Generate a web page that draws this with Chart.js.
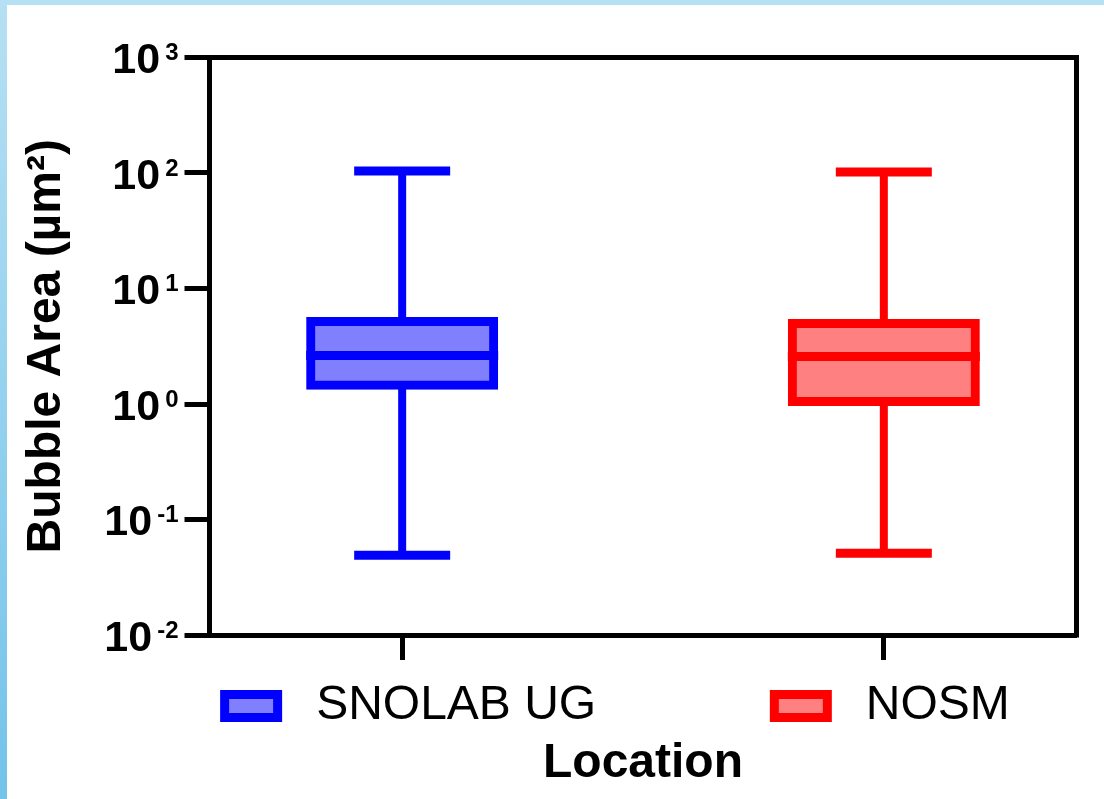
<!DOCTYPE html>
<html>
<head>
<meta charset="utf-8">
<script src="https://cdn.jsdelivr.net/npm/chart.js@4.4.1/dist/chart.umd.min.js"></script>
<style>
  html, body { margin: 0; padding: 0; }
  body { width: 1104px; height: 799px; overflow: hidden; position: relative;
         background: linear-gradient(to bottom, #b6e0f3, #73c3ea); }
  #wrap { position: absolute; left: 7px; top: 5px; width: 1097px; height: 794px; background: #fff; }
</style>
</head>
<body>
<div id="wrap"><canvas id="box"></canvas></div>
<script>
// box plot summary per location (µm²)
const locations = ['SNOLAB UG', 'NOSM'];
const minVals = [0.049, 0.051];
const q1Vals = [1.45, 1.05];
const medianVals = [2.63, 2.58];
const q3Vals = [5.18, 4.98];
const maxVals = [104, 102];

const lineColors = ['#0000ff', '#ff0000'];
const fillColors = ['#8080ff', '#ff8080'];

const yTickValues = [0.01, 0.1, 1, 10, 100, 1000];
const yTickExponents = ['-2', '-1', '0', '1', '2', '3'];

const FONT = "'Liberation Sans', Arial, Helvetica, sans-serif";

// top and right sides of the frame
const frame = {
  id: 'frame',
  beforeDatasetsDraw(chart) {
    const { ctx, chartArea: a } = chart;
    ctx.save();
    ctx.strokeStyle = '#000';
    ctx.lineWidth = 5;
    ctx.lineCap = 'square';
    ctx.beginPath();
    ctx.moveTo(a.left, a.top);
    ctx.lineTo(a.right, a.top);
    ctx.lineTo(a.right, a.bottom);
    ctx.stroke();
    ctx.restore();
  }
};

// 10^n tick labels with a raised exponent
const powerLabels = {
  id: 'powerLabels',
  afterDraw(chart) {
    const { ctx, scales: { y } } = chart;
    const right = y.right - 31;
    ctx.save();
    ctx.fillStyle = '#000';
    ctx.textAlign = 'right';
    ctx.textBaseline = 'alphabetic';
    yTickValues.forEach((v, i) => {
      const py = y.getPixelForValue(v);
      const exp = yTickExponents[i];
      ctx.font = `bold 24px ${FONT}`;
      ctx.fillText(exp, right, py + 2.5);
      const w = ctx.measureText(exp).width;
      ctx.font = `bold 43px ${FONT}`;
      ctx.fillText('10', right - w - 5, py + 15.5);
    });
    ctx.restore();
  }
};

// legend item under each box
const boxLegend = {
  id: 'boxLegend',
  afterDraw(chart) {
    const { ctx, chartArea: a, scales: { x } } = chart;
    const cy = a.bottom + 71;
    ctx.save();
    ctx.font = `48px ${FONT}`;
    ctx.textBaseline = 'middle';
    ctx.textAlign = 'left';
    locations.forEach((name, i) => {
      const tw = ctx.measureText(name).width;
      const itemW = 96 + tw;
      const left = x.getPixelForValue(i) + 6 - itemW / 2;
      ctx.fillStyle = fillColors[i];
      ctx.strokeStyle = lineColors[i];
      ctx.lineWidth = 9;
      ctx.fillRect(left + 4.5, cy - 11.5, 53, 23);
      ctx.strokeRect(left + 4.5, cy - 11.5, 53, 23);
      ctx.fillStyle = '#000';
      ctx.fillText(name, left + 96, cy);
    });
    ctx.restore();
  }
};

const axisGrid = {
  offset: false,
  drawOnChartArea: false,
  drawTicks: true,
  tickLength: 25,
  tickWidth: 5,
  tickColor: '#000'
};
const axisBorder = { display: true, width: 5, color: '#000' };

new Chart(document.getElementById('box'), {
  type: 'bar',
  data: {
    datasets: [
      {
        type: 'line',
        label: 'Median',
        data: locations.map((_, i) => ({ x: i, y: medianVals[i] })),
        showLine: false,
        pointStyle: 'line',
        pointRadius: 96,
        pointBorderWidth: 9,
        pointBorderColor: lineColors,
        pointBackgroundColor: lineColors,
        order: 0
      },
      {
        type: 'line',
        label: 'Max',
        data: locations.map((_, i) => ({ x: i, y: maxVals[i] })),
        showLine: false,
        pointStyle: 'line',
        pointRadius: 48,
        pointBorderWidth: 9,
        pointBorderColor: lineColors,
        pointBackgroundColor: lineColors,
        order: 0
      },
      {
        type: 'line',
        label: 'Min',
        data: locations.map((_, i) => ({ x: i, y: minVals[i] })),
        showLine: false,
        pointStyle: 'line',
        pointRadius: 48,
        pointBorderWidth: 9,
        pointBorderColor: lineColors,
        pointBackgroundColor: lineColors,
        order: 0
      },
      {
        label: 'Box',
        data: locations.map((_, i) => ({ x: i, y: [q1Vals[i], q3Vals[i]] })),
        backgroundColor: fillColors,
        borderColor: lineColors,
        borderWidth: 9,
        borderSkipped: false,
        barThickness: 183,
        inflateAmount: 4.5,
        grouped: false,
        order: 1
      },
      {
        label: 'Whisker',
        data: locations.map((_, i) => ({ x: i, y: [minVals[i], maxVals[i]] })),
        backgroundColor: lineColors,
        borderWidth: 0,
        barThickness: 8,
        inflateAmount: 0,
        grouped: false,
        order: 2
      }
    ]
  },
  options: {
    responsive: true,
    maintainAspectRatio: false,
    animation: false,
    events: [],
    layout: { autoPadding: false, padding: { top: 52.5, right: 27.5, bottom: 0, left: 0 } },
    plugins: {
      legend: { display: false },
      tooltip: { enabled: false }
    },
    scales: {
      x: {
        type: 'linear',
        min: -0.4,
        max: 1.4,
        offset: false,
        afterBuildTicks: s => { s.ticks = [0, 1].map(v => ({ value: v })); },
        ticks: { display: false },
        grid: axisGrid,
        border: axisBorder,
        title: {
          display: true,
          text: 'Location',
          color: '#000',
          font: { family: FONT, size: 48, weight: 'bold', lineHeight: 1.2 },
          padding: { top: 0, bottom: 6 }
        },
        afterFit: s => { s.height = 164; }
      },
      y: {
        type: 'logarithmic',
        min: 0.01,
        max: 1000,
        beginAtZero: false,
        afterBuildTicks: s => { s.ticks = yTickValues.map(v => ({ value: v })); },
        ticks: { display: false },
        grid: axisGrid,
        border: axisBorder,
        title: {
          display: true,
          text: 'Bubble Area (µm²)',
          color: '#000',
          font: { family: FONT, size: 48, weight: 'bold', lineHeight: 1.2 },
          padding: { top: 11, bottom: 0 }
        },
        afterFit: s => { s.width = 202.5; }
      }
    }
  },
  plugins: [frame, powerLabels, boxLegend]
});
</script>
</body>
</html>
